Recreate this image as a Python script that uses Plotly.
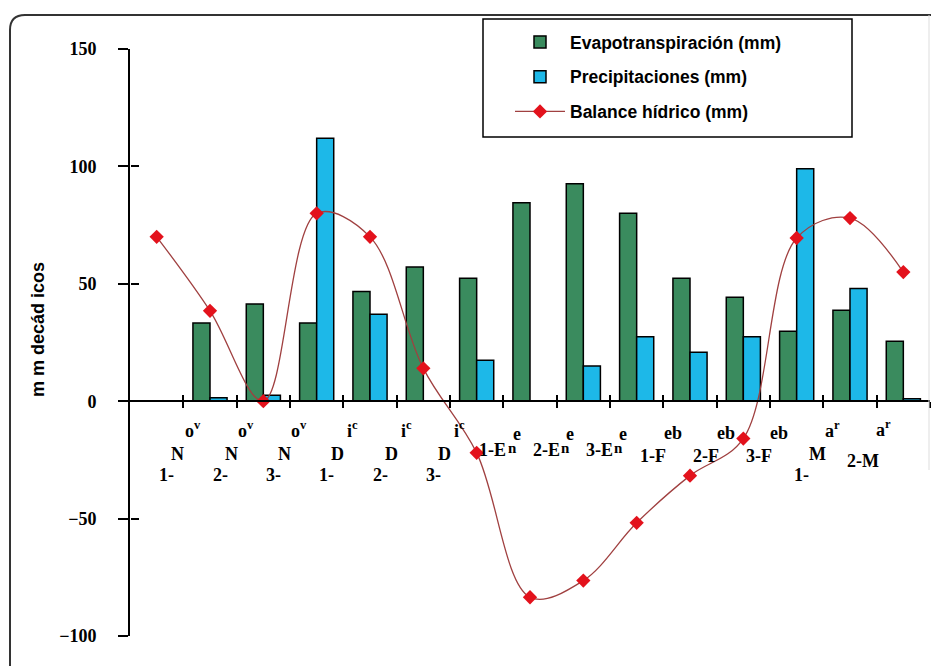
import plotly.graph_objects as go

# ---------------- data ----------------
categories = ["1-Nov", "2-Nov", "3-Nov", "1-Dic", "2-Dic", "3-Dic", "1-Ene", "2-Ene",
              "3-Ene", "1-Feb", "2-Feb", "3-Feb", "1-Mar", "2-Mar", "3-Mar"]
evapotranspiracion = [None, 33.3, 41.4, 33.3, 46.7, 57.2, 52.4, 84.5, 92.6, 80.0, 52.4, 44.3, 29.8, 38.7, 25.5]
precipitaciones = [None, 1.5, 2.5, 112.0, 37.0, 0, 17.4, 0, 15.0, 27.5, 20.9, 27.5, 99.0, 48.0, 1.0]
balance_hidrico = [70.0, 38.5, 0.0, 80.0, 70.0, 14.0, -22.0, -83.5, -76.4, -51.8, -31.7, -15.9, 69.5, 78.0, 55.0]
y_ticks = [-100, -50, 0, 50, 100, 150]

# tick labels as they appear (broken into stacked pieces)
tick_top = ["o<sup>v</sup>", "o<sup>v</sup>", "o<sup>v</sup>", "i<sup>c</sup>", "i<sup>c</sup>", "i<sup>c</sup>",
            "e", "e", "e", "eb", "eb", "eb", "a<sup>r</sup>", "a<sup>r</sup>"]
tick_mid = ["N", "N", "N", "D", "D", "D", "1-E", "2-E", "3-E",
            "1-F", "2-F", "3-F", "M", "2-M"]
tick_sup = ["", "", "", "", "", "", "n", "n", "n", "", "", "", "", ""]
tick_bot = ["1-", "2-", "3-", "1-", "2-", "3-", "", "", "", "", "", "", "1-", ""]

# ---------------- geometry helpers ----------------
W, H = 931, 666
L, R, T, B = 130, 1, 49, 30
PW, PH = W - L - R, H - T - B
n = len(categories)
CAT_PX = PW / n


def px(x):
    return (x - L) / PW


def py(y):
    return (H - B - y) / PH


x_idx = list(range(n))

GREEN = "#3A8B5E"
BLUE = "#1DB8E8"
LINE = "#A04040"
MARK = "#E3121C"

fig = go.Figure()
fig.add_trace(go.Bar(x=x_idx, y=evapotranspiracion, name="Evapotranspiración (mm)",
                     marker=dict(color=GREEN, line=dict(color="black", width=1.5)),
                     legendgroup="a"))
fig.add_trace(go.Bar(x=x_idx, y=precipitaciones, name="Precipitaciones (mm)",
                     marker=dict(color=BLUE, line=dict(color="black", width=1.5)),
                     legendgroup="b"))
fig.add_trace(go.Scatter(x=x_idx, y=balance_hidrico, name="Balance hídrico (mm)",
                         mode="lines+markers",
                         line=dict(color=LINE, width=1.3, shape="spline", smoothing=1.0),
                         marker=dict(color=MARK, symbol="diamond", size=11),
                         legendgroup="c"))
# invisible helper trace to bring up the overlay axes (crossing ticks)
fig.add_trace(go.Scatter(x=[0], y=[0], xaxis="x2", yaxis="y2", mode="markers",
                         marker=dict(opacity=0), showlegend=False, hoverinfo="skip"))

zero_pos = (0 - y_ticks[0]) / (y_ticks[-1] - y_ticks[0])
boundaries = [i + 0.5 for i in range(n)]

fig.update_layout(
    width=W, height=H,
    margin=dict(l=L, r=R, t=T, b=B, autoexpand=False),
    paper_bgcolor="white", plot_bgcolor="white",
    barmode="group", bargap=0.36, bargroupgap=0,
    showlegend=True,
    legend=dict(x=px(510), y=py(24), xanchor="left", yanchor="top",
                bgcolor="rgba(0,0,0,0)", borderwidth=0,
                font=dict(family="Liberation Sans", size=17.5, color="black", weight="bold"),
                tracegroupgap=9, itemwidth=50),
    xaxis=dict(range=[-0.5, n - 0.5], anchor="free", position=zero_pos,
               showline=True, linecolor="black", linewidth=2,
               ticks="outside", ticklen=6, tickwidth=2, tickcolor="black",
               tickvals=boundaries, showticklabels=False,
               showgrid=False, zeroline=False),
    xaxis2=dict(range=[-0.5, n - 0.5], overlaying="x", anchor="free", position=zero_pos,
                showline=False, ticks="inside", ticklen=6, tickwidth=2, tickcolor="black",
                tickvals=boundaries, showticklabels=False, showgrid=False, zeroline=False),
    yaxis=dict(range=[y_ticks[0], y_ticks[-1]], showline=True, linecolor="black", linewidth=2,
               ticks="outside", ticklen=10, tickwidth=2, tickcolor="black",
               tickvals=y_ticks, ticklabelstandoff=18,
               tickfont=dict(family="Liberation Serif", size=18, color="black", weight="bold"),
               showgrid=False, zeroline=False),
    yaxis2=dict(range=[y_ticks[0], y_ticks[-1]], overlaying="y", anchor="free", position=0,
                side="left", showline=False, ticks="inside", ticklen=8, tickwidth=2,
                tickcolor="black", tickvals=y_ticks, showticklabels=False,
                showgrid=False, zeroline=False),
)

# y axis title
fig.add_annotation(text="m m decád icos", xref="paper", yref="paper",
                   x=px(38), y=py(330), xanchor="center", yanchor="middle",
                   textangle=-90, showarrow=False,
                   font=dict(family="Liberation Sans", size=18, color="black", weight="bold"))

# stacked category labels
lab_font = dict(family="Liberation Serif", size=18, color="black", weight="bold")
sup_font = dict(family="Liberation Serif", size=15, color="black", weight="bold")
for k in range(len(tick_top)):
    grp = categories[k].split("-")[1]
    if grp == "Ene":
        top_off, top_y, mid_off, mid_y = 40, 434, 16, 462
    elif grp == "Feb":
        top_off, top_y, mid_off, mid_y = 36, 445, 16, 468
    elif grp == "Mar" and tick_bot[k] == "":
        top_off, top_y, mid_off, mid_y = 33, 442, 13, 473
    else:
        top_off, top_y, mid_off, mid_y = 36, 443, 21, 466
    bot_off = 5 if grp == "Mar" else 10
    fig.add_annotation(text=tick_top[k], x=k + top_off / CAT_PX, y=py(top_y),
                       xref="x", yref="paper", showarrow=False, font=lab_font)
    fig.add_annotation(text=tick_mid[k], x=k + mid_off / CAT_PX, y=py(mid_y),
                       xref="x", yref="paper", showarrow=False, font=lab_font)
    if tick_sup[k]:
        fig.add_annotation(text=tick_sup[k], x=k + (mid_off + 13) / CAT_PX, y=py(mid_y - 4),
                           xref="x", yref="paper", xanchor="left", showarrow=False,
                           font=sup_font)
    if tick_bot[k]:
        fig.add_annotation(text=tick_bot[k], x=k + bot_off / CAT_PX, y=py(487),
                           xref="x", yref="paper", showarrow=False, font=lab_font)

# legend box
fig.add_shape(type="rect", xref="paper", yref="paper",
              x0=px(483), x1=px(852), y0=py(137), y1=py(19),
              line=dict(color="black", width=1.5), fillcolor="rgba(0,0,0,0)")

# outer rounded frame (left & top edges visible)
frame = (f"M {px(10)},{py(700)} L {px(10)},{py(30)} Q {px(10)},{py(15)} {px(25)},{py(15)} "
         f"L {px(935)},{py(15)}")
fig.add_shape(type="path", xref="paper", yref="paper", path=frame,
              line=dict(color="#333333", width=2))
fig.add_shape(type="line", xref="paper", yref="paper",
              x0=px(929), x1=px(929), y0=py(15), y1=py(470),
              line=dict(color="#dddddd", width=1))

fig.write_html("out.html", config={"displayModeBar": False},
               post_script="document.body.style.margin='0px';")
